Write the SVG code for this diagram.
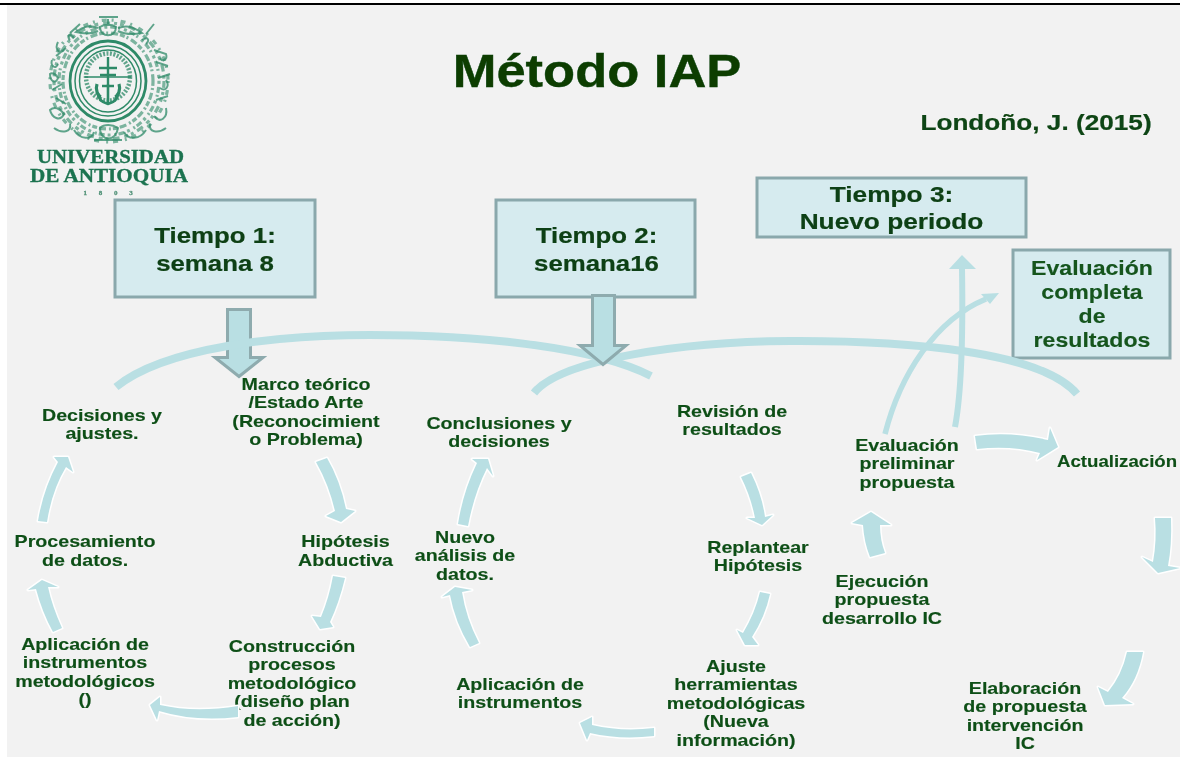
<svg xmlns="http://www.w3.org/2000/svg" width="1180" height="758" viewBox="0 0 1180 758">
<style>
text{font-family:"Liberation Sans",Arial,sans-serif;font-weight:700;text-anchor:middle}
.lb{font-size:16.800px;fill:#115019;stroke:#115019;stroke-width:.15}
.bx{font-size:22.500px;fill:#0e4113;stroke:#0e4113;stroke-width:.2}
.ev{font-size:20.500px;fill:#14551f;stroke:#14551f;stroke-width:.15}
.box{fill:#d6ebef;stroke:#8aa8ac;stroke-width:3}
.arc{fill:none;stroke:#b9dfe3;stroke-linecap:butt}
.blk{fill:#b9dfe3;stroke:#fff;stroke-width:3;stroke-linejoin:round;paint-order:stroke fill}
.down{fill:#b9dfe3;stroke:#8eabae;stroke-width:3;stroke-linejoin:miter}
.thin{fill:none;stroke:#b9dfe3}
.hd{fill:#b9dfe3}
.lg{fill:none;stroke:#2f8a68}
.lt{font-family:"Liberation Serif","Times New Roman",serif;fill:#1b7350;stroke:#1b7350;stroke-width:.3}
</style>
<defs>
<filter id="soft" filterUnits="userSpaceOnUse" x="0" y="0" width="1180" height="758"><feGaussianBlur stdDeviation="0.5"/></filter>
<filter id="soft2" filterUnits="userSpaceOnUse" x="0" y="0" width="300" height="220"><feGaussianBlur stdDeviation="0.7"/></filter>
</defs>
<rect width="1180" height="758" fill="#fff"/>
<rect x="7" y="5" width="1173" height="752" fill="#f2f2f2"/>
<rect x="0" y="3" width="1180" height="2" fill="#000"/>

<g id="logo" filter="url(#soft2)">
<g class="lg">
<ellipse cx="108" cy="81" rx="38" ry="40" stroke-width="2.800"/>
<ellipse cx="108" cy="81" rx="33" ry="35" stroke-width="1.500"/>
<ellipse cx="108" cy="81" rx="28.500" ry="31" stroke-width="1.500"/>
<ellipse cx="108" cy="77" rx="22" ry="23.500" stroke-width="4.500" stroke-dasharray="2 1.500" opacity=".75"/>
<path d="M108 57V84M99 68H117M100 75H116" stroke-width="2.400"/>
<path d="M85 77H131" stroke-width="1.500"/>
<path d="M108 84V103M98 93C98 100 104 103 108 104C112 103 118 100 118 93M102 86H114" stroke-width="2.600"/>
<path d="M97 84C95 90 98 96 101 97M119 84C121 90 118 96 115 97" stroke-width="3.200"/>
</g>
<g class="lg" stroke-width="3.200" opacity="0.6">
<ellipse cx="108" cy="81" rx="45" ry="48" stroke-dasharray="5 2 2 3 7 2"/>
<ellipse cx="109" cy="81" rx="50" ry="54" stroke-dasharray="3 3 6 2 2 4"/>
<ellipse cx="109" cy="81" rx="55" ry="58" stroke-dasharray="7 4 3 3 4 5"/>
<ellipse cx="109" cy="81" rx="59" ry="61" stroke-dasharray="2 7 5 5"/>
</g>
<g class="lg" stroke-width="2" opacity="0.75">
<path d="M99 17H118M108 19V26M100 27C100 38 116 38 116 27C112 24 104 24 100 27Z"/>
<path d="M98 28C90 25 84 26 76 32C84 34 92 34 98 31M118 28C126 25 132 26 142 33C132 35 124 34 118 31"/>
<path d="M70 33L80 24M74 38C70 32 66 36 70 40M146 34L154 24M142 40C148 36 150 40 146 44"/>
<path d="M58 42C54 50 60 54 64 50M66 48L56 56M52 60C50 66 56 70 58 64M154 50L166 54C168 60 162 62 160 58M156 62L168 66"/>
<path d="M50 74C50 82 56 84 58 78C56 74 52 72 50 74ZM52 90L62 84M166 80C170 86 166 92 160 88M158 78L170 74"/>
<path d="M50 110C52 118 60 122 64 114C60 108 54 106 50 110ZM56 98L66 104M54 128C62 134 72 132 70 124M166 108C168 118 160 124 154 116M156 100L168 96M166 128C158 134 148 132 150 124"/>
<path d="M74 130C80 140 92 140 94 132M100 128C100 142 116 142 118 128C112 124 104 124 100 128ZM124 132C128 140 140 140 146 130M94 140H122"/>
</g>
<text class="lt" x="110.500" y="163" font-size="18" textLength="147" lengthAdjust="spacingAndGlyphs">UNIVERSIDAD</text>
<text class="lt" x="109" y="182" font-size="18" textLength="158" lengthAdjust="spacingAndGlyphs">DE ANTIOQUIA</text>
<text class="lt" x="110.500" y="195" font-size="7" letter-spacing="5" opacity=".75">1 8 0 3</text>
</g>

<g filter="url(#soft)">
<g id="titulo"><text transform="translate(597,87) scale(1.117,1)" font-size="47" fill="#083c06" stroke="#083c06" stroke-width=".4">Método IAP</text></g>
<g id="autor"><text transform="translate(1036,130) scale(1.19,1)" font-size="22" fill="#0f4513" stroke="#0f4513" stroke-width=".2">Londoño, J. (2015)</text></g>

<g id="tiempo1"><rect class="box" x="115" y="200" width="200" height="97"/>
<text class="bx" transform="translate(215,243) scale(1.148,1)"><tspan x="0">Tiempo 1:</tspan><tspan x="0" dy="28">semana 8</tspan></text></g>
<g id="tiempo2"><rect class="box" x="496" y="200" width="199" height="97"/>
<text class="bx" transform="translate(596.500,243) scale(1.148,1)"><tspan x="0">Tiempo 2:</tspan><tspan x="0" dy="28">semana16</tspan></text></g>
<g id="tiempo3"><rect class="box" x="757" y="178" width="269" height="59"/>
<text class="bx" transform="translate(891.500,202) scale(1.167,1)"><tspan x="0">Tiempo 3:</tspan><tspan x="0" dy="27">Nuevo periodo</tspan></text></g>
<g id="evaluacion-completa"><rect class="box" x="1013" y="250" width="157" height="108"/>
<text class="ev" transform="translate(1092,275) scale(1.127,1)"><tspan x="0">Evaluación</tspan><tspan x="0" dy="24">completa</tspan><tspan x="0" dy="24.500">de</tspan><tspan x="0" dy="24">resultados</tspan></text></g>

<g id="marco"><text class="lb" transform="translate(306,390) scale(1.17,1)"><tspan x="0">Marco teórico</tspan><tspan x="0" dy="18.500">/Estado Arte</tspan><tspan x="0" dy="18.500">(Reconocimient</tspan><tspan x="0" dy="18.500">o Problema)</tspan></text></g>
<g id="hipotesis"><text class="lb" transform="translate(345.500,547) scale(1.17,1)"><tspan x="0">Hipótesis</tspan><tspan x="0" dy="19">Abductiva</tspan></text></g>
<g id="construccion"><text class="lb" transform="translate(292,652) scale(1.17,1)"><tspan x="0">Construcción</tspan><tspan x="0" dy="18.500">procesos</tspan><tspan x="0" dy="18.500">metodológico</tspan><tspan x="0" dy="18.500">(diseño plan</tspan><tspan x="0" dy="18.500">de acción)</tspan></text></g>
<g id="aplicacion1"><text class="lb" transform="translate(85,650) scale(1.17,1)"><tspan x="0">Aplicación de</tspan><tspan x="0" dy="18.500">instrumentos</tspan><tspan x="0" dy="18.500">metodológicos</tspan><tspan x="0" dy="18.500">()</tspan></text></g>
<g id="procesamiento"><text class="lb" transform="translate(85,547) scale(1.17,1)"><tspan x="0">Procesamiento</tspan><tspan x="0" dy="19">de datos.</tspan></text></g>
<g id="decisiones"><text class="lb" transform="translate(102,421) scale(1.17,1)"><tspan x="0">Decisiones y</tspan><tspan x="0" dy="18.500">ajustes.</tspan></text></g>

<g id="revision"><text class="lb" transform="translate(732,417) scale(1.17,1)"><tspan x="0">Revisión de</tspan><tspan x="0" dy="18.500">resultados</tspan></text></g>
<g id="replantear"><text class="lb" transform="translate(758,553) scale(1.17,1)"><tspan x="0">Replantear</tspan><tspan x="0" dy="18.500">Hipótesis</tspan></text></g>
<g id="ajuste"><text class="lb" transform="translate(736,672) scale(1.17,1)"><tspan x="0">Ajuste</tspan><tspan x="0" dy="18.500">herramientas</tspan><tspan x="0" dy="18.500">metodológicas</tspan><tspan x="0" dy="18.500">(Nueva</tspan><tspan x="0" dy="18.500">información)</tspan></text></g>
<g id="aplicacion2"><text class="lb" transform="translate(520,690) scale(1.17,1)"><tspan x="0">Aplicación de</tspan><tspan x="0" dy="18.500">instrumentos</tspan></text></g>
<g id="nuevo-analisis"><text class="lb" transform="translate(465,543) scale(1.17,1)"><tspan x="0">Nuevo</tspan><tspan x="0" dy="18.500">análisis de</tspan><tspan x="0" dy="18.500">datos.</tspan></text></g>
<g id="conclusiones"><text class="lb" transform="translate(499,429) scale(1.17,1)"><tspan x="0">Conclusiones y</tspan><tspan x="0" dy="18.500">decisiones</tspan></text></g>

<g id="evaluacion-preliminar"><text class="lb" transform="translate(907,451) scale(1.17,1)"><tspan x="0">Evaluación</tspan><tspan x="0" dy="18.500">preliminar</tspan><tspan x="0" dy="18.500">propuesta</tspan></text></g>
<g id="actualizacion"><text class="lb" transform="translate(1057,467) scale(1.11,1)" style="text-anchor:start">Actualización</text></g>
<g id="elaboracion"><text class="lb" transform="translate(1025,694) scale(1.17,1)"><tspan x="0">Elaboración</tspan><tspan x="0" dy="18.500">de propuesta</tspan><tspan x="0" dy="18.500">intervención</tspan><tspan x="0" dy="18.500">IC</tspan></text></g>
<g id="ejecucion"><text class="lb" transform="translate(882,587) scale(1.17,1)"><tspan x="0">Ejecución</tspan><tspan x="0" dy="18.500">propuesta</tspan><tspan x="0" dy="18.500">desarrollo IC</tspan></text></g>

<g id="connectors">
<polygon class="down" points="227.500,309.500 250.500,309.500 250.500,357.500 263,357.500 239,376.500 215,357.500 227.500,357.500"/>
<path class="arc" stroke-width="8" d="M116,387C165,347 280,335 370,335C470,335 590,345 651,376"/>
<path class="arc" stroke-width="8" d="M534,393C560,360 680,341 800,341C900,341 1040,350 1077,394"/>
<polygon class="down" points="592.500,295.500 614.500,295.500 614.500,345.500 626,345.500 603,364.500 580,345.500 592.500,345.500"/>

<path class="thin" stroke-width="6" d="M955,427C962,390 963,330 962,268"/>
<polygon class="hd" points="962,255 976,269 949,269"/>
<path class="thin" stroke-width="5.500" d="M885,434C900,375 935,320 986,299"/>
<polygon class="hd" points="999,293 990,304 981,294"/>

<path class="blk" d="M316,462L327,458Q340,480 346,509L355,511L341,522L326,516L335,511Q329,485 316,462Z"/>
<path class="blk" d="M333,576L345,578Q339,603 330,622L333,627L320,629L312,616L321,617Q329,598 333,576Z"/>
<path class="blk" d="M238,706L238,717Q195,722 159,711L157,720L150,705L160,697L160,705Q195,713 238,706Z"/>
<path class="blk" d="M53,632L62,628Q52,606 48,587L58,587L42,580L28,590L36,589Q42,612 53,632Z"/>
<path class="blk" d="M38,521L47,522Q52,490 66,467L73,472L68,457L54,457L58,462Q43,490 38,521Z"/>

<path class="blk" d="M741,477L751,473Q762,495 765,517L773,515L762,525L747,518L755,518Q751,497 741,477Z"/>
<path class="blk" d="M760,592L770,594Q765,617 752,637L758,645L745,645L737,630L743,633Q755,613 760,592Z"/>
<path class="blk" d="M654,728L654,736Q620,740 590,733L587,740L580,723L592,717L592,725Q622,732 654,728Z"/>
<path class="blk" d="M470,647L479,643Q466,618 462,592L472,590L455,587L442,597L450,595Q455,622 470,647Z"/>
<path class="blk" d="M458,524L468,526Q474,494 487,468L493,476L488,459L472,459L477,463Q463,492 458,524Z"/>

<path class="blk" d="M975,436L977,449Q1010,445 1040,453L1037,460L1058,447L1050,428L1048,440Q1010,431 975,436Z"/>
<path class="blk" d="M1155,518L1171,518Q1172,545 1168,566L1180,568L1158,573L1142,557L1153,562Q1157,540 1155,518Z"/>
<path class="blk" d="M1127,652L1143,652Q1138,680 1122,698L1133,704L1105,705L1098,687L1108,692Q1122,675 1127,652Z"/>
<path class="blk" d="M870,557L885,553Q880,540 880,525L891,525L871,512L852,523L863,525Q864,542 870,557Z"/>
</g>
</g>
</svg>
